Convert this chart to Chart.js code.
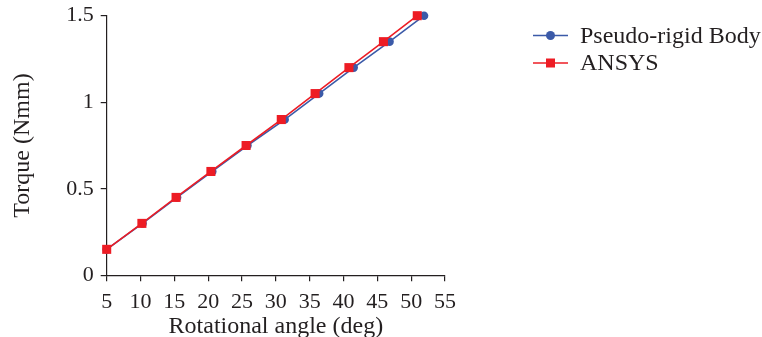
<!DOCTYPE html>
<html>
<head>
<meta charset="utf-8">
<script src="https://cdn.jsdelivr.net/npm/chart.js@4/dist/chart.umd.min.js"></script>
<style>
  html, body { margin: 0; padding: 0; background: #fff; }
  #wrap { width: 762px; height: 337px; position: relative; }
</style>
</head>
<body>
<div id="wrap"><canvas id="c" width="762" height="337"></canvas></div>
<script>
// Data
const seriesNames = ["Pseudo-rigid Body", "ANSYS"];
const pseudoAngle = [5, 10.3, 15.4, 20.6, 25.8, 31.3, 36.4, 41.5, 46.8, 51.9];
const pseudoTorque = [0.15, 0.30, 0.45, 0.60, 0.75, 0.90, 1.05, 1.20, 1.35, 1.50];
const ansysAngle = [5, 10.2, 15.25, 20.4, 25.6, 30.8, 35.8, 40.8, 45.9, 50.9];
const ansysTorque = [0.15, 0.30, 0.45, 0.60, 0.75, 0.90, 1.05, 1.20, 1.35, 1.50];
const xTicks = [5, 10, 15, 20, 25, 30, 35, 40, 45, 50, 55];
const yTicks = [0, 0.5, 1, 1.5];
const xTitle = "Rotational angle (deg)";
const yTitle = "Torque (Nmm)";

const FONT = "'Liberation Serif', 'Times New Roman', serif";
const INK = '#231f20';
const BLUE = '#3b5aa8';
const RED = '#ed1c24';

function toPoints(xs, ys) { return xs.map((x, i) => ({ x: x, y: ys[i] })); }

const legendPlugin = {
  id: 'sideLegend',
  afterDraw(chart) {
    const ctx = chart.ctx;
    const x0 = 533, x1 = 568, tx = 580;
    const ys = [35.5, 63];
    ctx.save();
    chart.data.datasets.forEach((ds, i) => {
      const y = ys[i];
      ctx.strokeStyle = ds.borderColor;
      ctx.lineWidth = 1.3;
      ctx.beginPath(); ctx.moveTo(x0, y); ctx.lineTo(x1, y); ctx.stroke();
      ctx.fillStyle = ds.pointBackgroundColor;
      const cx = (x0 + x1) / 2;
      if (ds.pointStyle === 'rect') {
        ctx.fillRect(cx - 4.5, y - 4.5, 9, 9);
      } else {
        ctx.beginPath(); ctx.arc(cx, y, 4.5, 0, Math.PI * 2); ctx.fill();
      }
      ctx.fillStyle = INK;
      ctx.font = "24px " + FONT;
      ctx.textBaseline = 'middle';
      ctx.textAlign = 'left';
      ctx.fillText(ds.label, tx, y + 1);
    });
    ctx.restore();
  }
};

new Chart(document.getElementById('c'), {
  type: 'line',
  data: {
    datasets: [
      {
        label: seriesNames[0],
        data: toPoints(pseudoAngle, pseudoTorque),
        borderColor: BLUE,
        backgroundColor: BLUE,
        pointBackgroundColor: BLUE,
        pointBorderColor: BLUE,
        pointStyle: 'circle',
        pointRadius: 4.3,
        pointBorderWidth: 0,
        borderWidth: 1.6,
        tension: 0,
        clip: false,
        order: 1
      },
      {
        label: seriesNames[1],
        data: toPoints(ansysAngle, ansysTorque),
        borderColor: RED,
        backgroundColor: RED,
        pointBackgroundColor: RED,
        pointBorderColor: RED,
        pointStyle: 'rect',
        pointRadius: 6.4,
        pointBorderWidth: 0,
        borderWidth: 1.6,
        tension: 0,
        clip: false,
        order: 0
      }
    ]
  },
  options: {
    responsive: false,
    animation: false,
    devicePixelRatio: 1,
    layout: { padding: { left: 0, right: 317, top: 15.7, bottom: 0 } },
    plugins: { legend: { display: false }, tooltip: { enabled: false } },
    scales: {
      x: {
        type: 'linear',
        min: 5, max: 55,
        afterBuildTicks(scale) { scale.ticks = xTicks.map(v => ({ value: v })); },
        afterFit(scale) { scale.height = 61.7; scale.paddingLeft = 0; scale.paddingRight = 0; },
        ticks: {
          color: INK,
          font: { family: FONT, size: 22 },
          padding: 8,
          maxRotation: 0,
          autoSkip: false,
          callback: v => String(v)
        },
        grid: { display: true, drawOnChartArea: false, drawTicks: true, tickLength: 6, color: INK, lineWidth: 1.2 },
        border: { display: true, color: INK, width: 1.2 },
        title: { display: true, text: xTitle, color: INK, font: { family: FONT, size: 24 }, padding: { top: 0, bottom: -4 } }
      },
      y: {
        min: 0, max: 1.5,
        afterBuildTicks(scale) { scale.ticks = yTicks.map(v => ({ value: v })); },
        afterFit(scale) { scale.width = 106.7; scale.paddingTop = 0; scale.paddingBottom = 0; },
        ticks: {
          color: INK,
          font: { family: FONT, size: 22 },
          padding: 7,
          autoSkip: false,
          callback: v => String(v)
        },
        grid: { display: true, drawOnChartArea: false, drawTicks: true, tickLength: 6, color: INK, lineWidth: 1.2 },
        border: { display: true, color: INK, width: 1.2 },
        title: { display: true, text: yTitle, color: INK, font: { family: FONT, size: 24 }, padding: { top: 8.6, bottom: 0 } }
      }
    }
  },
  plugins: [legendPlugin]
});
</script>
</body>
</html>
